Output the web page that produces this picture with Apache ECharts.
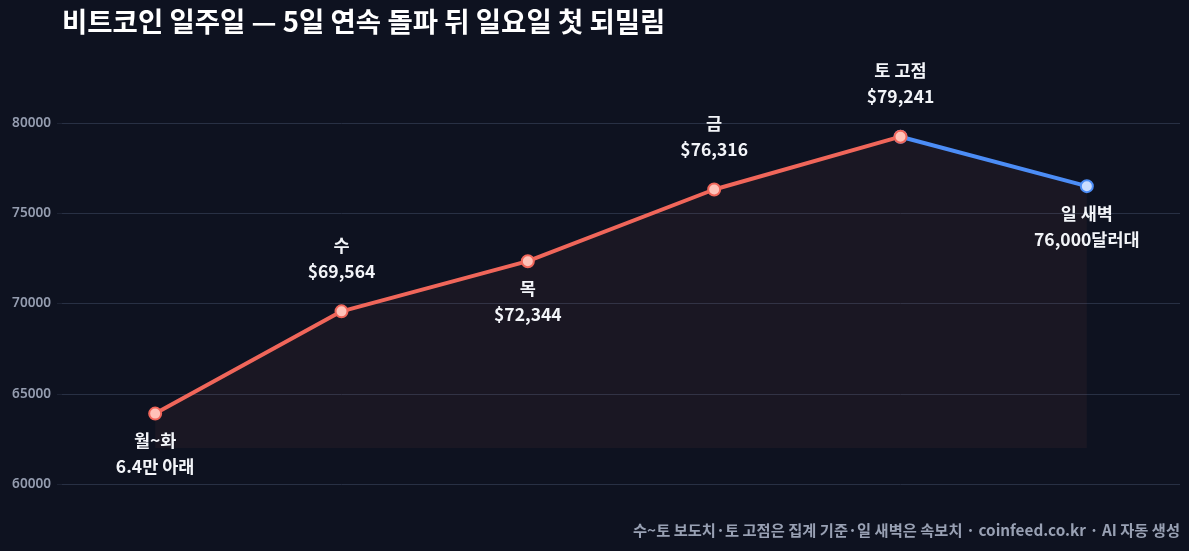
<!DOCTYPE html>
<html>
<head>
<meta charset="utf-8">
<script src="https://cdn.jsdelivr.net/npm/echarts@6/dist/echarts.min.js"></script>
<style>
  html, body { margin: 0; padding: 0; background: #0e1220; }
  #chart { width: 1189px; height: 551px; }
</style>
</head>
<body>
<div id="chart"></div>
<script>
// data
var days = ['월~화', '수', '목', '금', '토', '일'];
var prices = [63900, 69564, 72344, 76316, 79241, 76500];
var labelTexts = ['월~화\n6.4만 아래', '수\n$69,564', '목\n$72,344', '금\n$76,316', '토 고점\n$79,241', '일 새벽\n76,000달러대'];
var labelBelow = [true, false, true, false, false, true];
var yTicks = { min: 60000, max: 80000, step: 5000 };

var RED = '#f0665a';
var BLUE = '#4c8df6';

function makeLabel(i) {
    return {
        show: true,
        position: labelBelow[i] ? 'bottom' : 'top',
        distance: labelBelow[i] ? 7 : 20,
        formatter: labelTexts[i],
        color: '#f2f4f8',
        fontSize: 17.5,
        fontWeight: 'bold',
        lineHeight: 26,
        fontFamily: 'Noto Sans CJK KR'
    };
}

// red run: 월~화 .. 토, blue run: 토 .. 일
var redData = prices.map(function (v, i) {
    if (i > 4) return null;
    return { value: v, label: makeLabel(i) };
});
var blueData = prices.map(function (v, i) {
    if (i < 4) return null;
    return { value: v, label: i === 5 ? makeLabel(i) : { show: false } };
});

var chart = echarts.init(document.getElementById('chart'));

var option = {
    backgroundColor: '#0e1220',
    animation: false,
    title: {
        text: '비트코인 일주일 — 5일 연속 돌파 뒤 일요일 첫 되밀림',
        left: 57,
        top: 3,
        textStyle: {
            color: '#ffffff',
            fontSize: 27.5,
            fontWeight: 'bold',
            fontFamily: 'Noto Sans CJK KR'
        }
    },
    graphic: [{
        type: 'text',
        right: 9,
        top: 523,
        style: {
            text: '수~토 보도치·토 고점은 집계 기준·일 새벽은 속보치 · coinfeed.co.kr · AI 자동 생성',
            fill: '#98a0b3',
            fontSize: 15.3,
            fontWeight: 'bold',
            fontFamily: 'Noto Sans CJK KR'
        }
    }],
    grid: { left: 62, right: 9, top: 123, bottom: 67 },
    xAxis: {
        type: 'category',
        data: days,
        boundaryGap: true,
        axisLine: { show: false },
        axisTick: { show: false },
        axisLabel: { show: false }
    },
    yAxis: {
        type: 'value',
        min: yTicks.min,
        max: yTicks.max,
        interval: yTicks.step,
        axisLine: { show: false },
        axisTick: { show: true, length: 5, lineStyle: { color: '#1c2233' } },
        axisLabel: {
            color: '#959db0',
            fontSize: 13.6,
            fontWeight: 600,
            margin: 11,
            fontFamily: 'Noto Sans',
            formatter: function (v) { return String(v); }
        },
        splitLine: { lineStyle: { color: '#283044', width: 1 } }
    },
    series: [
        {
            name: 'area',
            type: 'line',
            data: prices,
            symbol: 'none',
            silent: true,
            lineStyle: { width: 0, opacity: 0 },
            areaStyle: { color: 'rgba(240,102,90,0.08)', origin: 62000 },
            z: 1
        },
        {
            name: 'red',
            type: 'line',
            data: redData,
            symbol: 'circle',
            symbolSize: 12,
            lineStyle: { color: RED, width: 4 },
            itemStyle: { color: '#ffc2b8', borderColor: RED, borderWidth: 2 },
            z: 3
        },
        {
            name: 'blue',
            type: 'line',
            data: blueData,
            symbol: 'circle',
            symbolSize: 12,
            lineStyle: { color: BLUE, width: 4 },
            itemStyle: { color: '#c9dcff', borderColor: BLUE, borderWidth: 2 },
            z: 2
        }
    ]
};

chart.setOption(option);
</script>
</body>
</html>
